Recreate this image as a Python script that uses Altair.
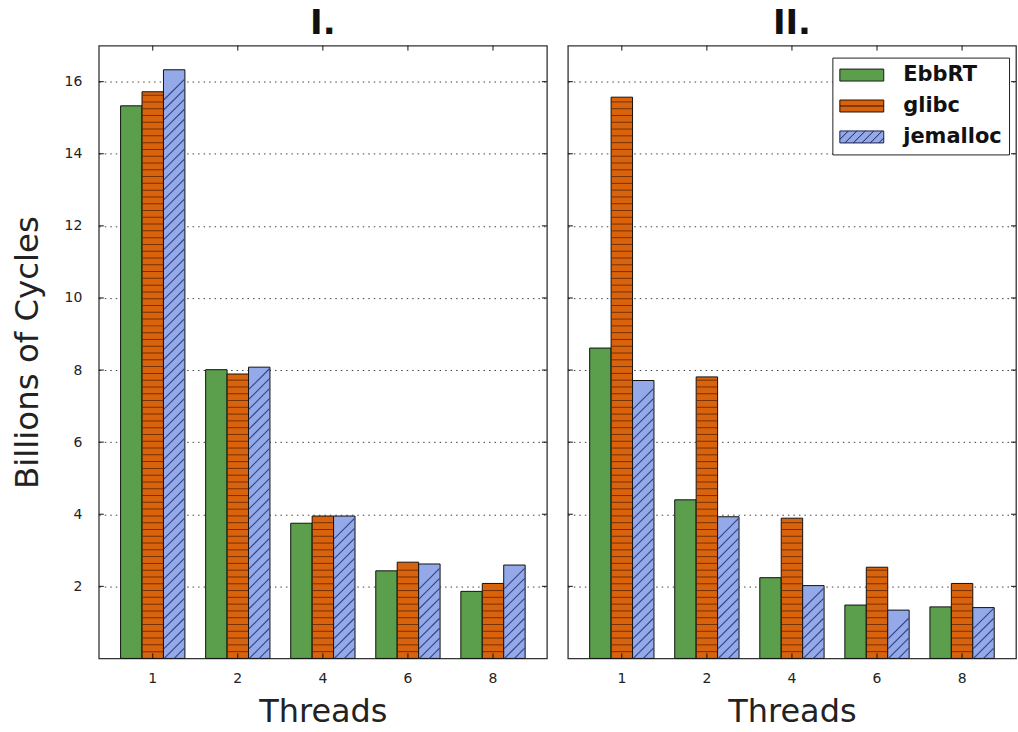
import altair as alt
import pandas as pd

# ---------------- data ----------------
threads = ["1", "2", "4", "6", "8"]
series = ["EbbRT", "glibc", "jemalloc"]

p1_ebbrt = [15.33, 8.01, 3.75, 2.43, 1.86]
p1_glibc = [15.72, 7.89, 3.95, 2.67, 2.08]
p1_jemalloc = [16.33, 8.08, 3.95, 2.62, 2.59]

p2_ebbrt = [8.61, 4.40, 2.24, 1.48, 1.43]
p2_glibc = [15.57, 7.81, 3.89, 2.53, 2.08]
p2_jemalloc = [7.71, 3.93, 2.02, 1.34, 1.41]

y_ticks = [2, 4, 6, 8, 10, 12, 14, 16]
panel_titles = ["I.", "II."]

# ---------------- styling ----------------
W, H = 449, 614
YMAX = 17
PAD_IN, PAD_OUT = 0.244, 0.256
colors = ["#5b9e4c", "#d9620c", "#93a9e8"]
FONT = "DejaVu Sans"

step = W / (len(threads) - PAD_IN + 2 * PAD_OUT)
sub_w = step * (1 - PAD_IN) / len(series)
px_per_unit = H / YMAX
stripe_gap = 6.8 / px_per_unit      # horizontal hatch spacing (data units)
diag_gap = 10.0 / px_per_unit       # diagonal hatch spacing (data units)
diag_half = (sub_w - 1) / 2 / px_per_unit

# legend symbol paths (wide rectangle + hatch); 1 unit = 10 px (symbolSize 400)
x_l, x_r, r = -1.0, 3.4, 0.6
rect = f"M{x_l},{-r}H{x_r}V{r}H{x_l}Z"
hline = rect + f" M{x_l},0H{x_r}"
segs = []
c = x_l - 2 * r
while c < x_r:
    t0 = max(0.0, (x_l - c) / (2 * r))
    t1 = min(1.0, (x_r - c) / (2 * r))
    if t0 < t1:
        x0, y0 = c + 2 * r * t0, r - 2 * r * t0
        x1, y1 = c + 2 * r * t1, r - 2 * r * t1
        segs.append(f"M{x0:.3f},{y0:.3f}L{x1:.3f},{y1:.3f}")
    c += 0.85
dline = rect + " " + " ".join(segs)


def make_df(vals):
    rows = []
    for s, v in zip(series, vals):
        for t, val in zip(threads, v):
            rows.append({"thread": t, "series": s, "value": val})
    return pd.DataFrame(rows)


def hatch_h(df):
    rows = []
    for _, rw in df[df.series == "glibc"].iterrows():
        k = 1
        while k * stripe_gap < rw.value - 0.05:
            rows.append({"thread": rw.thread, "series": rw.series, "level": k * stripe_gap})
            k += 1
    return pd.DataFrame(rows)


def hatch_d(df):
    rows = []
    for _, rw in df[df.series == "jemalloc"].iterrows():
        k = 0
        while k * diag_gap <= rw.value - diag_half:
            rows.append({"thread": rw.thread, "series": rw.series, "level": k * diag_gap})
            k += 1
    return pd.DataFrame(rows)


xscale = alt.Scale(domain=threads, paddingInner=PAD_IN, paddingOuter=PAD_OUT)
oscale = alt.Scale(domain=series, paddingInner=0, paddingOuter=0)
yscale = alt.Scale(domain=[0, YMAX], nice=False, zero=True)
cscale = alt.Scale(domain=series, range=colors)
sscale = alt.Scale(domain=series, range=[rect, hline, dline])
kscale = alt.Scale(domain=series, range=["#1a1a1a", "#2a1000", "#1a2050"])

legend = alt.Legend(
    title=None, orient="none", legendX=735, legendY=12,
    strokeColor="#222", fillColor="white", padding=7, cornerRadius=0,
    symbolSize=400, symbolStrokeColor="#111",
    symbolStrokeWidth=1, symbolOpacity=1, labelFont=FONT, labelFontWeight="bold",
    labelFontSize=21, labelColor="#111", labelOffset=43, rowPadding=9,
)


def panel(vals, title, first):
    df = make_df(vals)
    yaxis = alt.Axis(
        title="Billions of Cycles" if first else None, values=y_ticks,
        labels=first, ticks=False, domain=False, grid=True,
        gridDash=[1.5, 4], gridColor="#000", gridOpacity=0.75, gridWidth=1,
        labelFontSize=14, labelPadding=17, labelColor="#222",
        titleFontSize=32.5, titleFontWeight="normal", titlePadding=20,
        titleColor="#222",
    )
    xaxis = alt.Axis(
        title="Threads", labelAngle=0, ticks=False, domain=False,
        labelFontSize=14, labelPadding=13, labelColor="#222",
        titleFontSize=32, titleFontWeight="normal", titlePadding=11,
        titleColor="#222",
    )
    X = lambda: alt.X("thread:N", sort=threads, scale=xscale, axis=xaxis)
    XO = lambda: alt.XOffset("series:N", scale=oscale)
    Y = lambda f: alt.Y(f, scale=yscale, axis=yaxis)

    keyl = alt.Chart(df).mark_point(
        filled=True, opacity=0, strokeWidth=1
    ).encode(
        x=X(), xOffset=XO(), y=Y("value:Q"),
        color=alt.Color("series:N", scale=cscale, legend=legend),
        shape=alt.Shape("series:N", scale=sscale, legend=legend),
        stroke=alt.Stroke("series:N", scale=kscale, legend=legend),
    )
    bars = alt.Chart(df).mark_bar(stroke="#111", strokeWidth=1).encode(
        x=X(), xOffset=XO(), y=Y("value:Q"),
        color=alt.Color("series:N", scale=cscale, legend=legend),
    )
    hh = alt.Chart(hatch_h(df)).mark_tick(
        orient="horizontal", size=sub_w - 1, thickness=1, color="#4a1e00"
    ).encode(x=X(), xOffset=XO(), y=Y("level:Q"))
    hd = alt.Chart(hatch_d(df)).mark_point(
        shape="M-1,1L1,-1", size=(sub_w - 1) ** 2, filled=False,
        color="#34438a", strokeWidth=1.1, opacity=1, clip=True
    ).encode(x=X(), xOffset=XO(), y=Y("level:Q"))
    tdf = pd.DataFrame({"t": y_ticks})
    yt_l = alt.Chart(tdf).mark_rule(color="#111", strokeWidth=1).encode(
        y=Y("t:Q"), x=alt.value(0), x2=alt.value(5))
    yt_r = alt.Chart(tdf).mark_rule(color="#111", strokeWidth=1).encode(
        y=Y("t:Q"), x=alt.value(W - 5), x2=alt.value(W))
    xdf = pd.DataFrame({"thread": threads})
    xt_b = alt.Chart(xdf).mark_rule(color="#111", strokeWidth=1).encode(
        x=X(), y=alt.value(H - 5), y2=alt.value(H))
    xt_t = alt.Chart(xdf).mark_rule(color="#111", strokeWidth=1).encode(
        x=X(), y=alt.value(0), y2=alt.value(5))
    return alt.layer(keyl, bars, hh, hd, yt_l, yt_r, xt_b, xt_t).properties(
        width=W, height=H,
        title=alt.Title(title, fontSize=34, fontWeight="bold", font=FONT,
                        color="#111", offset=4),
    )


chart = alt.hconcat(
    panel([p1_ebbrt, p1_glibc, p1_jemalloc], panel_titles[0], True),
    panel([p2_ebbrt, p2_glibc, p2_jemalloc], panel_titles[1], False),
    spacing=17,
).properties(
    padding={"left": 10, "top": 5, "right": 0, "bottom": 0},
    background="white",
).configure(font=FONT).configure_view(stroke="#333", strokeWidth=1.3)

chart.save("out.html", embed_options={"renderer": "svg", "actions": False})
